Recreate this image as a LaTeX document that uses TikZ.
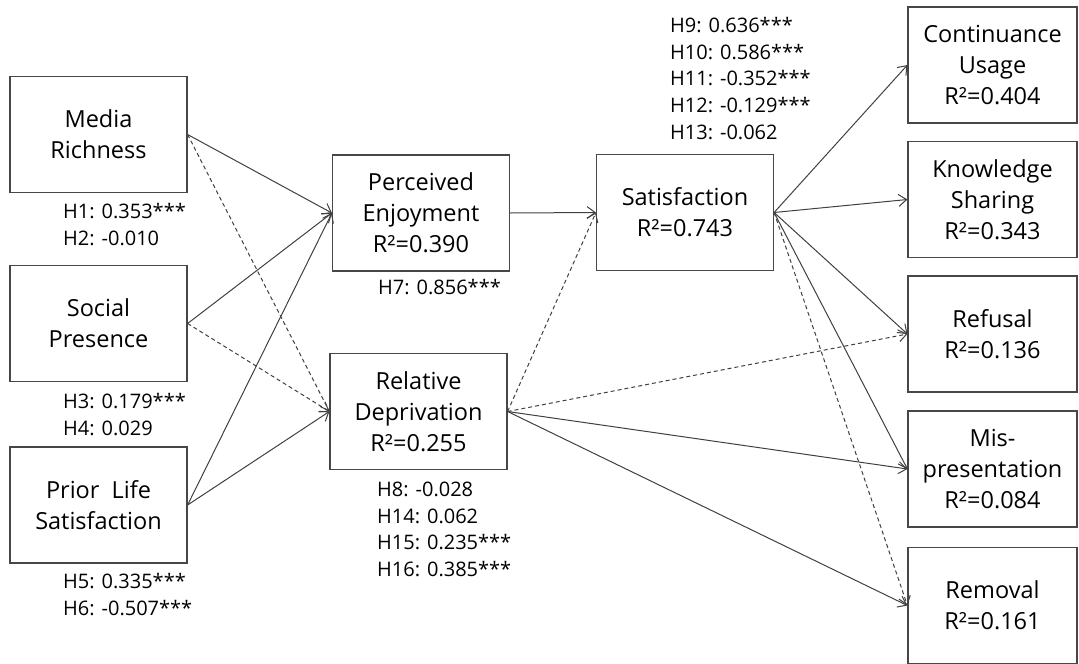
\documentclass[tikz,border=0pt]{standalone}
\usepackage{fontspec}
\setmainfont{Open Sans}
\usetikzlibrary{arrows.meta}
\begin{document}
\begin{tikzpicture}[x=1pt,y=-1pt,
  box/.style={draw=black!72, line width=1.2pt, fill=white, minimum width=177pt, minimum height=116pt, align=center, font=\fontsize{23.5}{31}\selectfont, inner sep=0pt, text=black},
  rbox/.style={box, minimum width=169pt},
  lab/.style={anchor=base west, font=\fontsize{20}{27}\selectfont, inner sep=0pt, text=black},
  arr/.style={draw=black!75, line width=1pt, -{Straight Barb[length=8pt,width=12pt]}},
  dsh/.style={arr, dash pattern=on 4pt off 3pt}]
\useasboundingbox (0,0) rectangle (1079,664);
% boxes
\node[box] (mr)  at (98.5,134.5) {Media\\Richness};
\node[box] (sp)  at (98.5,323.5) {Social\\Presence};
\node[box] (pls) at (98.5,505)   {Prior~~Life\\Satisfaction};
\node[box] (pe)  at (421,213)    {Perceived\\Enjoyment\\R²=0.390};
\node[box] (rd)  at (418.5,411.5){Relative\\Deprivation\\R²=0.255};
\node[box] (sat) at (685,212.5)  {Satisfaction\\R²=0.743};
\node[rbox] (cu)  at (992.5,65)  {Continuance\\Usage\\R²=0.404};
\node[rbox] (ks)  at (992.5,199.5) {Knowledge\\Sharing\\R²=0.343};
\node[rbox] (ref) at (992.5,334)   {Refusal\\R²=0.136};
\node[rbox] (mis) at (992.5,469)   {Mis-\\presentation\\R²=0.084};
\node[rbox] (rem) at (992.5,605.5) {Removal\\R²=0.161};
% connectors
\draw[arr] (mr.east) -- (pe.west);
\draw[dsh] (mr.east) -- (rd.west);
\draw[arr] (sp.east) -- (pe.west);
\draw[dsh] (sp.east) -- (rd.west);
\draw[arr] (pls.east) -- (pe.west);
\draw[arr] (pls.east) -- (rd.west);
\draw[arr] (pe.east) -- (sat.west);
\draw[dsh] (rd.east) -- (sat.west);
\draw[arr] (sat.east) -- (cu.west);
\draw[arr] (sat.east) -- (ks.west);
\draw[arr] (sat.east) -- (ref.west);
\draw[arr] (sat.east) -- (mis.west);
\draw[dsh] (sat.east) -- (rem.west);
\draw[dsh] (rd.east) -- (ref.west);
\draw[arr] (rd.east) -- (mis.west);
\draw[arr] (rd.east) -- (rem.west);
% labels
\node[lab] (h1) at (63,218) {H1: 0.353***};
\node[lab] (h2) at (63,245) {H2: -0.010};
\node[lab] (h3) at (63,408) {H3: 0.179***};
\node[lab] (h4) at (63,435) {H4: 0.029};
\node[lab] (h5) at (63,588) {H5: 0.335***};
\node[lab] (h6) at (63,615) {H6: -0.507***};
\node[lab] (h7) at (378,294) {H7: 0.856***};
\node[lab] (h8)  at (377,496) {H8: -0.028};
\node[lab] (h14) at (377,523) {H14: 0.062};
\node[lab] (h15) at (377,549) {H15: 0.235***};
\node[lab] (h16) at (377,576) {H16: 0.385***};
\node[lab] (h9)  at (670,32)  {H9: 0.636***};
\node[lab] (h10) at (670,59)  {H10: 0.586***};
\node[lab] (h11) at (670,85)  {H11: -0.352***};
\node[lab] (h12) at (670,112) {H12: -0.129***};
\node[lab] (h13) at (670,139) {H13: -0.062};
\end{tikzpicture}
\end{document}
